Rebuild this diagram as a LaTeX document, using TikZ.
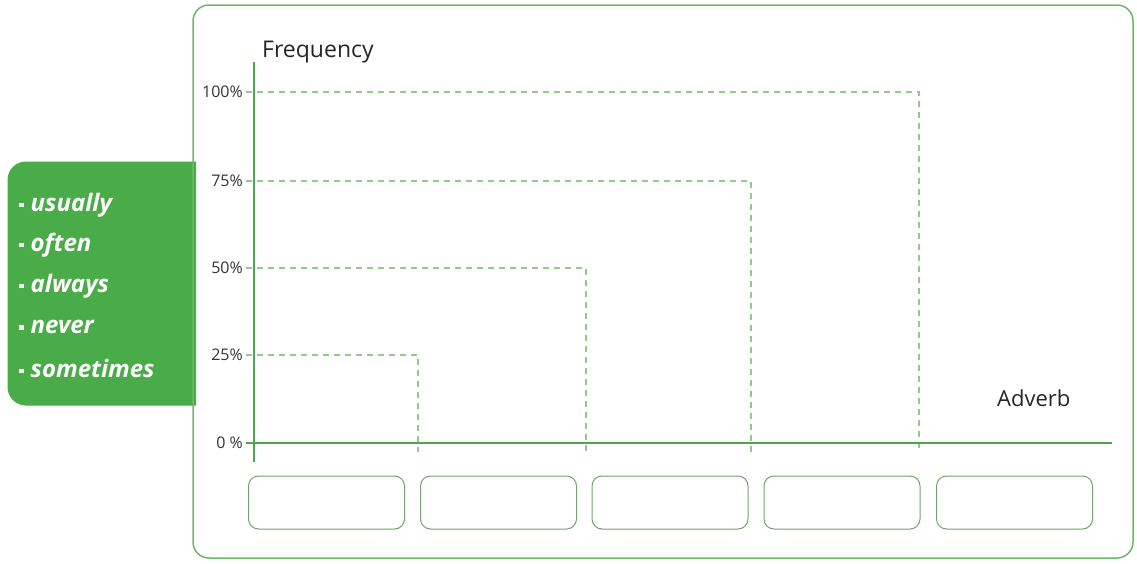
\documentclass[tikz,border=0pt]{standalone}
\usepackage{fontspec}
\setmainfont{Open Sans}
\usetikzlibrary{positioning}
\definecolor{gfill}{RGB}{74,172,72}
\definecolor{gframe}{RGB}{110,185,105}
\definecolor{gaxis}{RGB}{80,165,80}
\definecolor{gdash}{RGB}{140,205,135}
\definecolor{gbox}{RGB}{115,160,110}
\tikzset{
  pct/.style={anchor=east, font=\fontsize{16}{18}\selectfont, text=black!80, inner sep=1pt},
  dashline/.style={gdash, line width=1.2pt, dash pattern=on 6pt off 5pt},
  slot/.style={draw=gbox, line width=1pt, rounded corners=10pt, minimum width=156pt, minimum height=53pt, inner sep=0pt},
  word/.style={anchor=west, text=white, font=\fontsize{24}{26}\selectfont\bfseries\itshape, inner sep=0pt}
}
\newcommand{\sqbullet}{\raisebox{0.3ex}{\rule{4.5pt}{4.5pt}}\hspace{7pt}}
\begin{document}
\begin{tikzpicture}[x=1pt,y=-1pt]
\useasboundingbox (0,0) rectangle (1137,563);
% green word box
\draw[gfill, fill=gfill, line width=1pt, rounded corners=18pt] (196,162) -- (8,162) -- (8,405) -- (196,405);
\fill[gfill] (180,162) rectangle (196,405);
% main frame
\node[draw=gframe, line width=1.5pt, rounded corners=16pt, minimum width=940pt, minimum height=553pt, inner sep=0pt] (frame) at (663,281.5) {};
% words
\foreach \w/\y [count=\i] in {usually/205, often/245, always/286, never/327, sometimes/368}{
  \node[word] (w\i) at (19,\y) {\sqbullet\w};
}
% axes coordinates
\coordinate (ytop) at (254,62);
\coordinate (ybot) at (254,462);
\coordinate (xend) at (1112,443);
\coordinate (xstart) at (246,443);
% dashed levels
\foreach \y/\x/\n in {92/919/a, 181/751/b, 268/586/c, 355/418/d}{
  \coordinate (l\n) at (246,\y);
  \coordinate (c\n) at (\x,\y);
  \coordinate (e\n) at (\x,452);
  \draw[dashline] (l\n) -- (c\n) -- (e\n);
}
\draw[gaxis, line width=1.5pt] (ybot) -- (ytop);
\draw[gaxis, line width=1.5pt] (xstart) -- (xend);
% labels
\node[pct] (p100) at (244,92) {100\%};
\node[pct] (p75) at (244,181) {75\%};
\node[pct] (p50) at (244,268) {50\%};
\node[pct] (p25) at (244,355) {25\%};
\node[pct] (p0) at (244,443) {0 \%};
\node[anchor=west, font=\fontsize{23}{25}\selectfont, text=black!85, inner sep=0pt] (freq) at (262,52) {Frequency};
\node[anchor=west, font=\fontsize{22}{24}\selectfont, text=black!85, inner sep=0pt] (adv) at (997,398) {Adverb};
% slots
\foreach \x [count=\i] in {326.5, 498.5, 670, 842, 1014.5}{
  \node[slot] (s\i) at (\x,502.5) {};
}
\end{tikzpicture}
\end{document}
